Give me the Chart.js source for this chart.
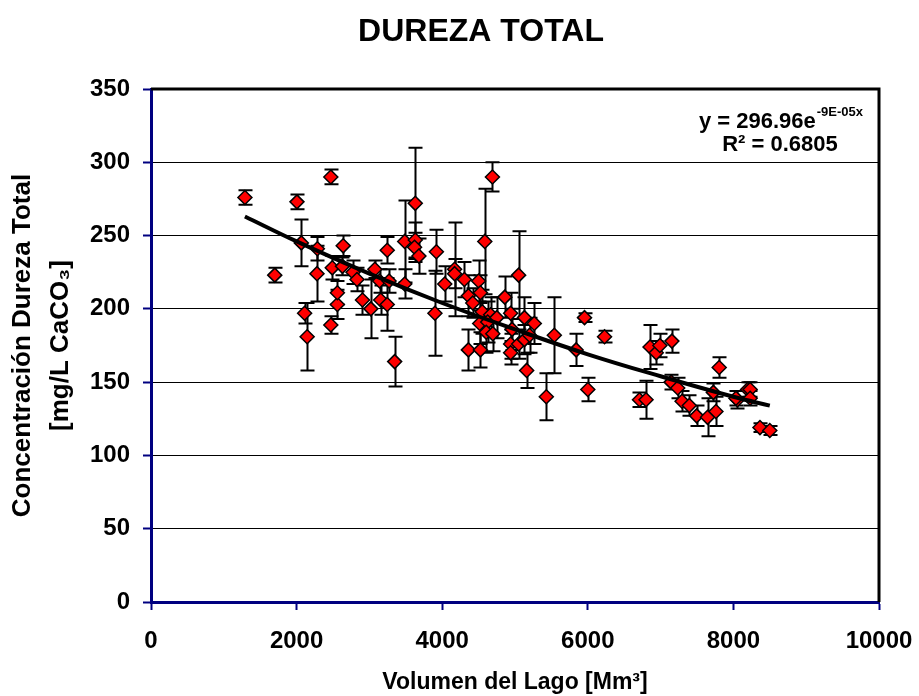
<!DOCTYPE html>
<html>
<head>
<meta charset="utf-8">
<script src="https://cdn.jsdelivr.net/npm/chart.js@4.4.1/dist/chart.umd.min.js"></script>
<style>
  html, body { margin: 0; padding: 0; background: #ffffff; }
  #wrap { width: 919px; height: 696px; }
</style>
</head>
<body>
<div id="wrap"><canvas id="c" width="919" height="696"></canvas></div>
<script>
// ---- Data ----
const tituloGrafico = "DUREZA TOTAL";
const tituloEjeX = "Volumen del Lago [Mm³]";
const tituloEjeY = ["Concentración Dureza Total", "[mg/L CaCO₃]"];
const ecuacionBase = "y = 296.96e";
const ecuacionExp = "-9E-05x";
const ecuacionR2 = "R² = 0.6805";

const volumen = [
  1290, 1700, 2005, 2065, 2110, 2145, 2285, 2280, 2470, 2470,
  2490, 2560, 2560, 2640, 2630, 2775, 2830, 2905, 3020, 3075,
  3140, 3155, 3245, 3245, 3270, 3347, 3485, 3485, 3630, 3630,
  3620, 3680, 3920, 3900, 4035, 4170, 4170, 4305, 4360, 4420,
  4500, 4525, 4585, 4690, 4550, 4515, 4665, 4625, 4605, 4695,
  4750, 4360, 4525, 4860, 5050, 4940, 5130, 5265, 4960, 4940,
  5050, 4940, 5130, 5160, 5200, 5540, 5430, 5840, 5955, 6000,
  6230, 6710, 6800, 6855, 6940, 6990, 7155, 7145, 7235, 7295,
  7395, 7495, 7645, 7760, 7805, 7725, 8055, 8195, 8230, 8035,
  8230, 8365, 8500
];
const dureza = [
  276, 223, 273, 245, 197, 181, 241, 224, 290, 189,
  228, 203, 211, 243, 229, 225, 220, 206, 200, 227,
  219, 206, 203, 240, 219, 164, 246, 217, 272, 247,
  242, 236, 239, 197, 217, 227, 224, 220, 209, 204,
  219, 211, 246, 290, 198, 190, 196, 191, 184, 183,
  194, 172, 172, 208, 223, 197, 194, 190, 186, 176,
  176, 170, 179, 158, 182, 182, 140, 172, 194, 145,
  181, 138, 138, 174, 170, 175, 178, 150, 146, 137,
  134, 127, 126, 130, 160, 143, 138, 145, 145, 139,
  139, 119, 117
];
const errores = [
  5, 5, 5, 16, 7, 23, 8, 19, 5, 6,
  8, 10, 8, 7, 6, 8, 8, 10, 20, 6,
  8, 10, 18, 9, 8, 17, 28, 10, 38, 12,
  10, 12, 15, 29, 12, 32, 10, 12, 14, 10,
  14, 12, 36, 10, 15, 14, 12, 14, 14, 12,
  14, 14, 12, 14, 30, 14, 14, 14, 14, 10,
  10, 8, 10, 12, 12, 26, 16, 11, 3, 8,
  4, 5, 13, 15, 8, 8, 8, 5, 7, 7,
  7, 7, 13, 10, 7, 6, 6, 5, 5, 5,
  5, 3, 3
];
// Trend line
const tendenciaX = [1290, 2000, 3000, 4000, 5000, 6000, 7000, 8000, 8500];
const tendenciaY = [263, 246, 224, 204, 186, 169, 154, 140, 134];

const ticksX = [0, 2000, 4000, 6000, 8000, 10000];
const ticksY = [0, 50, 100, 150, 200, 250, 300, 350];

const FONT = "'Liberation Sans', Arial, Helvetica, sans-serif";
const NAVY = '#000080';

const puntos = volumen.map((v, i) => ({ x: v, y: dureza[i] }));
const tendencia = tendenciaX.map((v, i) => ({ x: v, y: tendenciaY[i] }));

const errorBars = {
  id: 'errorBars',
  beforeDatasetsDraw(chart) {
    const { ctx, scales: { x, y } } = chart;
    ctx.save();
    ctx.strokeStyle = '#000';
    ctx.lineWidth = 2;
    volumen.forEach((v, i) => {
      const px = Math.round(x.getPixelForValue(v)) + 0.5;
      const top = y.getPixelForValue(dureza[i] + errores[i]);
      const bot = y.getPixelForValue(dureza[i] - errores[i]);
      ctx.beginPath();
      ctx.moveTo(px, top); ctx.lineTo(px, bot);
      ctx.moveTo(px - 7, top); ctx.lineTo(px + 7, top);
      ctx.moveTo(px - 7, bot); ctx.lineTo(px + 7, bot);
      ctx.stroke();
    });
    ctx.restore();
  }
};

const decor = {
  id: 'decor',
  afterDraw(chart) {
    const { ctx, chartArea: a } = chart;
    ctx.save();
    // plot-area top and right border
    ctx.strokeStyle = '#000';
    ctx.lineWidth = 3;
    ctx.beginPath();
    ctx.moveTo(a.left, a.top);
    ctx.lineTo(a.right, a.top);
    ctx.lineTo(a.right, a.bottom);
    ctx.stroke();
    // title
    ctx.fillStyle = '#000';
    ctx.textAlign = 'center';
    ctx.textBaseline = 'alphabetic';
    ctx.font = "bold 32px " + FONT;
    ctx.fillText(tituloGrafico, 481, 41);
    // equation
    ctx.textAlign = 'left';
    ctx.font = "bold 22px " + FONT;
    const w1 = ctx.measureText(ecuacionBase).width;
    ctx.font = "bold 13px " + FONT;
    const w2 = ctx.measureText(ecuacionExp).width;
    const x0 = 862 - w1 - w2;
    ctx.font = "bold 22px " + FONT;
    ctx.fillText(ecuacionBase, x0, 128);
    ctx.font = "bold 13px " + FONT;
    ctx.fillText(ecuacionExp, x0 + w1 + 1, 116);
    ctx.font = "bold 22px " + FONT;
    ctx.textAlign = 'center';
    ctx.fillText(ecuacionR2, 780, 151);
    ctx.restore();
  }
};

Chart.defaults.font.family = FONT;
Chart.defaults.color = '#000';

new Chart(document.getElementById('c'), {
  type: 'scatter',
  data: {
    datasets: [
      {
        type: 'line',
        label: 'Tendencia',
        data: tendencia,
        borderColor: '#000',
        borderWidth: 4,
        pointRadius: 0,
        tension: 0.4,
        fill: false,
        order: 0
      },
      {
        label: 'Dureza',
        data: puntos,
        pointStyle: 'rectRot',
        pointRadius: 7,
        pointHoverRadius: 7,
        backgroundColor: '#ff0000',
        borderColor: '#000',
        borderWidth: 1.5,
        order: 1
      }
    ]
  },
  options: {
    responsive: false,
    animation: false,
    devicePixelRatio: 1,
    layout: { padding: { top: 89, right: 40, bottom: 0, left: 0 } },
    plugins: {
      legend: { display: false },
      tooltip: { enabled: false },
      title: { display: false }
    },
    scales: {
      x: {
        type: 'linear',
        min: 0, max: 10000,
        afterBuildTicks: s => { s.ticks = ticksX.map(v => ({ value: v })); },
        afterFit: s => { s.height = 94; },
        afterUpdate: s => { s.paddingRight = 0; },
        border: { display: true, color: NAVY, width: 3 },
        grid: { drawOnChartArea: false, drawTicks: true, tickLength: 8, tickColor: NAVY, tickWidth: 2 },
        ticks: { font: { size: 24, weight: 'bold' }, padding: 17, maxRotation: 0, autoSkip: false, color: '#000',
                 callback: v => String(v) },
        title: { display: true, text: tituloEjeX, font: { size: 23, weight: 'bold' }, padding: { top: 0, bottom: 0 }, color: '#000' }
      },
      y: {
        type: 'linear',
        min: 0, max: 350,
        afterBuildTicks: s => { s.ticks = ticksY.map(v => ({ value: v })); },
        afterFit: s => { s.width = 151; },
        border: { display: true, color: NAVY, width: 3 },
        grid: { drawOnChartArea: true, color: '#000', lineWidth: 1, drawTicks: true, tickLength: 8, tickColor: NAVY, tickWidth: 2 },
        ticks: { font: { size: 24, weight: 'bold' }, padding: 13, autoSkip: false, color: '#000',
                 callback: v => String(v) },
        title: { display: true, text: tituloEjeY, font: { size: 26, weight: 'bold', lineHeight: 1.45 }, padding: { top: 4, bottom: 0 }, color: '#000' }
      }
    }
  },
  plugins: [errorBars, decor]
});
</script>
</body>
</html>
